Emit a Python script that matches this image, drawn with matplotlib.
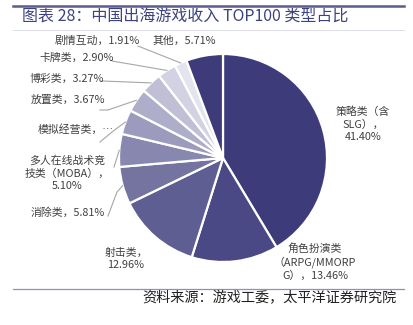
import matplotlib
matplotlib.use('Agg')
import matplotlib.pyplot as plt
from matplotlib.lines import Line2D
import numpy as np

plt.rcParams['font.family'] = ['Noto Sans CJK SC', 'DejaVu Sans']

# data
categories = ['策略类（含SLG）', '角色扮演类（ARPG/MMORPG）', '射击类', '消除类',
              '多人在线战术竞技类（MOBA）', '模拟经营类', '放置类', '博彩类',
              '卡牌类', '剧情互动', '其他']
values = [41.40, 13.46, 12.96, 5.81, 5.10, 3.81, 3.67, 3.27, 2.90, 1.91, 5.71]
labels = ['策略类（含\nSLG），\n41.40%',
          '角色扮演类\n（ARPG/MMORP\nG），13.46%',
          '射击类，\n12.96%',
          '消除类，5.81%',
          '多人在线战术竞\n技类（MOBA），\n5.10%',
          '模拟经营类，…',
          '放置类，3.67%',
          '博彩类，3.27%',
          '卡牌类，2.90%',
          '剧情互动，1.91%',
          '其他，5.71%']
colors = ['#3d3b7a', '#4a4985', '#5f5e92', '#7574a1', '#8887b0', '#9c9bbd',
          '#aeadca', '#c0bfd6', '#d3d2e2', '#e4e4ee', '#3d3b7a']

# layout (pixels in the 414x325 image)
W, H = 414, 325
CX, CY, R = 223, 158, 104
label_pos = [(363, 124), (315, 262), (126, 259), (68, 213), (67, 173),
             (76, 129), (68, 100), (67, 79), (77, 58), (97, 41), (184, 41)]
leaders = {3: [(108, 216), (117, 192)],
           4: [(114, 167)],
           5: [(100, 142), (112, 132)],
           6: [(100, 110), (108, 110)],
           7: [(102, 81)],
           8: [(112, 61)],
           9: [(138, 46)]}


def px(x, y):
    return (x - CX) / R, (CY - y) / R


fig = plt.figure(figsize=(W / 100, H / 100), dpi=100)
ax = fig.add_axes([0, 0, 1, 1])

wedges, _ = ax.pie(values, colors=colors, startangle=90, counterclock=False,
                   radius=1, center=(0, 0),
                   wedgeprops=dict(edgecolor='white', linewidth=1.6))

ax.set_xlim(-CX / R, (W - CX) / R)
ax.set_ylim(-(H - CY) / R, CY / R)
ax.set_aspect('equal')
ax.axis('off')

for i, w in enumerate(wedges):
    x, y = px(*label_pos[i])
    ax.text(x, y, labels[i], ha='center', va='center', fontsize=7.8,
            color='#404040', linespacing=1.3)
    if i in leaders:
        mid = np.deg2rad((w.theta1 + w.theta2) / 2)
        pts = [px(*p) for p in leaders[i]] + [(np.cos(mid), np.sin(mid))]
        pts = np.array(pts)
        ax.plot(pts[:, 0], pts[:, 1], color='#a6a6a6', lw=0.8)

# title and rules
fig.add_artist(Line2D([13 / W, 404 / W], [1 - 5.5 / H, 1 - 5.5 / H],
                      color='#5c5c8c', lw=1.8))
fig.text(22 / W, 1 - 17.5 / H, '图表 28：中国出海游戏收入 TOP100 类型占比',
         ha='left', va='center', fontsize=11.5, color='#3d4280')
fig.add_artist(Line2D([13 / W, 404 / W], [1 - 29.5 / H, 1 - 29.5 / H],
                      color='#d8d8e4', lw=0.6))
fig.add_artist(Line2D([13 / W, 404 / W], [1 - 289 / H, 1 - 289 / H],
                      color='#9090b0', lw=0.9))
fig.text(397 / W, 1 - 298 / H, '资料来源：游戏工委，太平洋证券研究院',
         ha='right', va='center', fontsize=10.2, style='italic', color='#202020')

fig.savefig('out.png', dpi=100)
